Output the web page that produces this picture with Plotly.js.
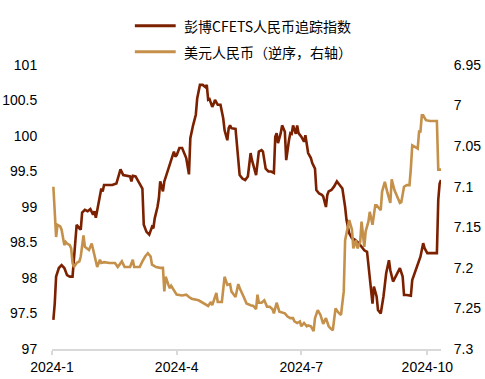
<!DOCTYPE html>
<html>
<head>
<meta charset="utf-8">
<script src="https://cdn.plot.ly/plotly-3.0.1.min.js"></script>
<style>html,body{margin:0;padding:0;background:#fff;}#chart{width:485px;height:379px;}</style>
</head>
<body>
<div id="chart"></div>
<script>
// ---- Data ----
const seriesNames = ['彭博CFETS人民币追踪指数', '美元人民币（逆序，右轴）'];

const cfetsDates = ['2024-01-02','2024-01-03','2024-01-04','2024-01-06','2024-01-08','2024-01-10','2024-01-12','2024-01-14','2024-01-16','2024-01-17','2024-01-18','2024-01-19','2024-01-21','2024-01-22','2024-01-23','2024-01-25','2024-01-27','2024-01-28','2024-01-29','2024-01-31','2024-02-01','2024-02-02','2024-02-03','2024-02-05','2024-02-06','2024-02-07','2024-02-08','2024-02-11','2024-02-14','2024-02-17','2024-02-19','2024-02-20','2024-02-22','2024-02-24','2024-02-27','2024-02-28','2024-02-29','2024-03-02','2024-03-04','2024-03-06','2024-03-07','2024-03-08','2024-03-10','2024-03-12','2024-03-14','2024-03-15','2024-03-16','2024-03-18','2024-03-19','2024-03-20','2024-03-22','2024-03-23','2024-03-25','2024-03-27','2024-03-28','2024-03-30','2024-03-31','2024-04-01','2024-04-03','2024-04-05','2024-04-06','2024-04-08','2024-04-10','2024-04-11','2024-04-13','2024-04-15','2024-04-16','2024-04-18','2024-04-20','2024-04-22','2024-04-23','2024-04-24','2024-04-25','2024-04-27','2024-04-28','2024-04-29','2024-05-01','2024-05-03','2024-05-05','2024-05-06','2024-05-08','2024-05-09','2024-05-10','2024-05-11','2024-05-14','2024-05-15','2024-05-17','2024-05-19','2024-05-21','2024-05-23','2024-05-25','2024-05-26','2024-05-28','2024-05-29','2024-05-31','2024-06-02','2024-06-03','2024-06-05','2024-06-07','2024-06-09','2024-06-11','2024-06-12','2024-06-13','2024-06-14','2024-06-16','2024-06-17','2024-06-19','2024-06-20','2024-06-22','2024-06-23','2024-06-24','2024-06-25','2024-06-27','2024-06-28','2024-06-29','2024-07-01','2024-07-03','2024-07-04','2024-07-06','2024-07-08','2024-07-09','2024-07-11','2024-07-12','2024-07-14','2024-07-16','2024-07-17','2024-07-19','2024-07-20','2024-07-21','2024-07-23','2024-07-25','2024-07-27','2024-07-29','2024-07-31','2024-08-02','2024-08-03','2024-08-05','2024-08-07','2024-08-09','2024-08-11','2024-08-12','2024-08-14','2024-08-16','2024-08-18','2024-08-19','2024-08-20','2024-08-22','2024-08-23','2024-08-25','2024-08-26','2024-08-28','2024-08-30','2024-09-01','2024-09-03','2024-09-04','2024-09-06','2024-09-08','2024-09-10','2024-09-11','2024-09-13','2024-09-14','2024-09-16','2024-09-19','2024-09-20','2024-09-22','2024-09-24','2024-09-26','2024-09-28','2024-09-29','2024-10-01','2024-10-05','2024-10-08','2024-10-09','2024-10-10','2024-10-11'];
const cfetsValues = [97.41,97.64,98.02,98.14,98.18,98.14,98.04,98.02,98.02,98.25,98.54,98.75,98.70,98.68,98.92,98.96,98.94,98.96,98.97,98.89,98.94,98.85,98.96,99.15,99.26,99.22,99.31,99.31,99.31,99.33,99.45,99.53,99.45,99.44,99.43,99.36,99.44,99.43,99.36,99.29,99.26,98.75,98.65,98.61,98.72,98.70,98.84,99.00,99.12,99.36,99.22,99.36,99.47,99.59,99.66,99.78,99.71,99.73,99.83,99.83,99.78,99.69,99.46,99.97,100.15,100.30,100.53,100.72,100.72,100.69,100.72,100.51,100.52,100.41,100.45,100.51,100.44,100.44,100.25,100.08,99.94,100.11,100.15,100.11,100.10,99.90,99.45,99.40,99.38,99.43,99.76,99.66,99.54,99.45,99.78,99.80,99.78,99.54,99.50,99.50,99.48,99.99,100.04,99.90,100.04,100.15,100.06,99.66,99.94,100.04,100.03,100.15,100.03,100.15,100.04,99.99,99.92,100.01,99.76,99.69,99.62,99.54,99.24,99.19,99.17,99.15,99.00,99.17,99.22,99.24,99.29,99.36,99.31,99.26,99.00,98.82,98.63,98.56,98.54,98.51,98.49,98.44,98.39,98.37,98.21,97.97,97.64,97.88,97.74,97.55,97.50,97.74,98.07,98.25,98.11,97.95,98.02,98.11,98.14,98.02,97.76,97.76,97.75,97.97,98.09,98.21,98.30,98.49,98.42,98.35,98.35,98.35,99.10,99.33,99.38];

const usdDates = ['2024-01-02','2024-01-03','2024-01-04','2024-01-05','2024-01-07','2024-01-08','2024-01-10','2024-01-11','2024-01-12','2024-01-14','2024-01-15','2024-01-16','2024-01-17','2024-01-19','2024-01-21','2024-01-22','2024-01-24','2024-01-25','2024-01-27','2024-01-28','2024-01-30','2024-02-01','2024-02-02','2024-02-03','2024-02-05','2024-02-06','2024-02-08','2024-02-12','2024-02-16','2024-02-18','2024-02-21','2024-02-23','2024-02-27','2024-02-29','2024-03-01','2024-03-04','2024-03-05','2024-03-07','2024-03-09','2024-03-11','2024-03-13','2024-03-14','2024-03-17','2024-03-20','2024-03-22','2024-03-23','2024-03-24','2024-03-26','2024-03-27','2024-03-28','2024-03-30','2024-04-01','2024-04-05','2024-04-08','2024-04-10','2024-04-12','2024-04-17','2024-04-19','2024-04-22','2024-04-24','2024-04-26','2024-04-27','2024-04-30','2024-05-01','2024-05-04','2024-05-06','2024-05-08','2024-05-10','2024-05-11','2024-05-14','2024-05-16','2024-05-17','2024-05-20','2024-05-22','2024-05-25','2024-05-27','2024-05-29','2024-05-30','2024-05-31','2024-06-02','2024-06-04','2024-06-06','2024-06-08','2024-06-10','2024-06-11','2024-06-13','2024-06-15','2024-06-17','2024-06-19','2024-06-21','2024-06-23','2024-06-25','2024-06-26','2024-06-28','2024-06-30','2024-07-01','2024-07-03','2024-07-05','2024-07-06','2024-07-08','2024-07-10','2024-07-11','2024-07-13','2024-07-15','2024-07-17','2024-07-19','2024-07-21','2024-07-22','2024-07-24','2024-07-26','2024-07-28','2024-07-30','2024-07-31','2024-08-01','2024-08-02','2024-08-03','2024-08-05','2024-08-07','2024-08-08','2024-08-10','2024-08-11','2024-08-13','2024-08-14','2024-08-16','2024-08-17','2024-08-19','2024-08-20','2024-08-22','2024-08-24','2024-08-25','2024-08-28','2024-08-29','2024-08-31','2024-09-02','2024-09-04','2024-09-05','2024-09-07','2024-09-09','2024-09-11','2024-09-12','2024-09-14','2024-09-16','2024-09-18','2024-09-19','2024-09-20','2024-09-22','2024-09-24','2024-09-25','2024-09-26','2024-09-27','2024-09-28','2024-09-30','2024-10-03','2024-10-08','2024-10-09','2024-10-11'];
const usdValues = [7.100,7.137,7.162,7.147,7.149,7.153,7.172,7.168,7.170,7.172,7.176,7.194,7.199,7.194,7.192,7.186,7.160,7.174,7.176,7.178,7.170,7.186,7.194,7.199,7.190,7.194,7.193,7.194,7.194,7.199,7.192,7.199,7.199,7.190,7.199,7.199,7.199,7.192,7.186,7.182,7.186,7.196,7.199,7.200,7.200,7.229,7.211,7.221,7.225,7.222,7.227,7.233,7.234,7.233,7.236,7.238,7.240,7.242,7.244,7.247,7.242,7.246,7.231,7.242,7.242,7.211,7.221,7.220,7.229,7.236,7.220,7.225,7.236,7.244,7.246,7.247,7.251,7.233,7.243,7.243,7.240,7.248,7.248,7.251,7.256,7.243,7.254,7.255,7.256,7.260,7.262,7.262,7.266,7.268,7.266,7.272,7.268,7.272,7.271,7.272,7.278,7.262,7.252,7.258,7.269,7.262,7.272,7.274,7.277,7.250,7.255,7.258,7.240,7.229,7.166,7.157,7.141,7.153,7.176,7.166,7.176,7.168,7.143,7.174,7.155,7.143,7.131,7.147,7.123,7.123,7.129,7.106,7.094,7.108,7.120,7.091,7.104,7.112,7.120,7.119,7.100,7.098,7.098,7.077,7.049,7.051,7.053,7.032,7.032,7.012,7.012,7.018,7.019,7.019,7.079,7.079];

const xTickVals = ['2024-01-01','2024-04-01','2024-07-01','2024-10-01'];
const xTickText = ['2024-1','2024-4','2024-7','2024-10'];
const yLeftTickVals = [97,97.5,98,98.5,99,99.5,100,100.5,101];
const yLeftTickText = ['97','97.5','98','98.5','99','99.5','100','100.5','101'];
const yRightTickVals = [6.95,7,7.05,7.1,7.15,7.2,7.25,7.3];
const yRightTickText = ['6.95','7','7.05','7.1','7.15','7.2','7.25','7.3'];

// ---- Styles ----
const darkColor = '#7B2100';
const lightColor = '#C4904A';
const numFont = {family: 'Liberation Sans, Arial, sans-serif', size: 14, color: '#000'};
const cjkFont = {family: 'Noto Sans CJK SC, sans-serif', size: 14, color: '#000'};

const traces = [
  {x: usdDates, y: usdValues, name: seriesNames[1], type: 'scatter', mode: 'lines',
   line: {color: lightColor, width: 2.6}, yaxis: 'y2', showlegend: false},
  {x: cfetsDates, y: cfetsValues, name: seriesNames[0], type: 'scatter', mode: 'lines',
   line: {color: darkColor, width: 2.6}, yaxis: 'y', showlegend: false}
];

// manual legend (paper coordinates relative to plot area)
const legendRows = [
  {name: seriesNames[0], color: darkColor, y: 1.138},
  {name: seriesNames[1], color: lightColor, y: 1.047}
];
const shapes = legendRows.map(r => ({type: 'line', xref: 'paper', yref: 'paper',
  x0: 0.213, x1: 0.318, y0: r.y, y1: r.y, line: {color: r.color, width: 3}}));
const annotations = legendRows.map(r => ({xref: 'paper', yref: 'paper', x: 0.333, y: r.y,
  xanchor: 'left', yanchor: 'middle', text: r.name, showarrow: false, font: cjkFont}));

const layout = {
  width: 485, height: 379,
  margin: {l: 52, r: 44, t: 65, b: 30, pad: 0},
  paper_bgcolor: '#fff', plot_bgcolor: '#fff',
  showlegend: false,
  font: numFont,
  xaxis: {
    type: 'date', range: ['2024-01-01', '2024-10-11'],
    tickvals: xTickVals, ticktext: xTickText,
    showgrid: false, zeroline: false,
    showline: true, linecolor: '#d9d9d9', linewidth: 2,
    ticks: 'outside', ticklen: 4, tickcolor: '#d9d9d9', tickwidth: 2,
    tickfont: numFont
  },
  yaxis: {
    range: [97, 101], tickvals: yLeftTickVals, ticktext: yLeftTickText,
    showgrid: false, zeroline: false, showline: false,
    ticks: 'outside', ticklen: 11, tickcolor: 'rgba(0,0,0,0)',
    tickfont: numFont
  },
  yaxis2: {
    overlaying: 'y', side: 'right',
    range: [7.3, 6.95], tickvals: yRightTickVals, ticktext: yRightTickText,
    showgrid: false, zeroline: false, showline: false,
    ticks: 'outside', ticklen: 9, tickcolor: 'rgba(0,0,0,0)',
    tickfont: numFont
  },
  shapes: shapes,
  annotations: annotations
};

Plotly.newPlot('chart', traces, layout, {staticPlot: true, displayModeBar: false});
</script>
</body>
</html>
